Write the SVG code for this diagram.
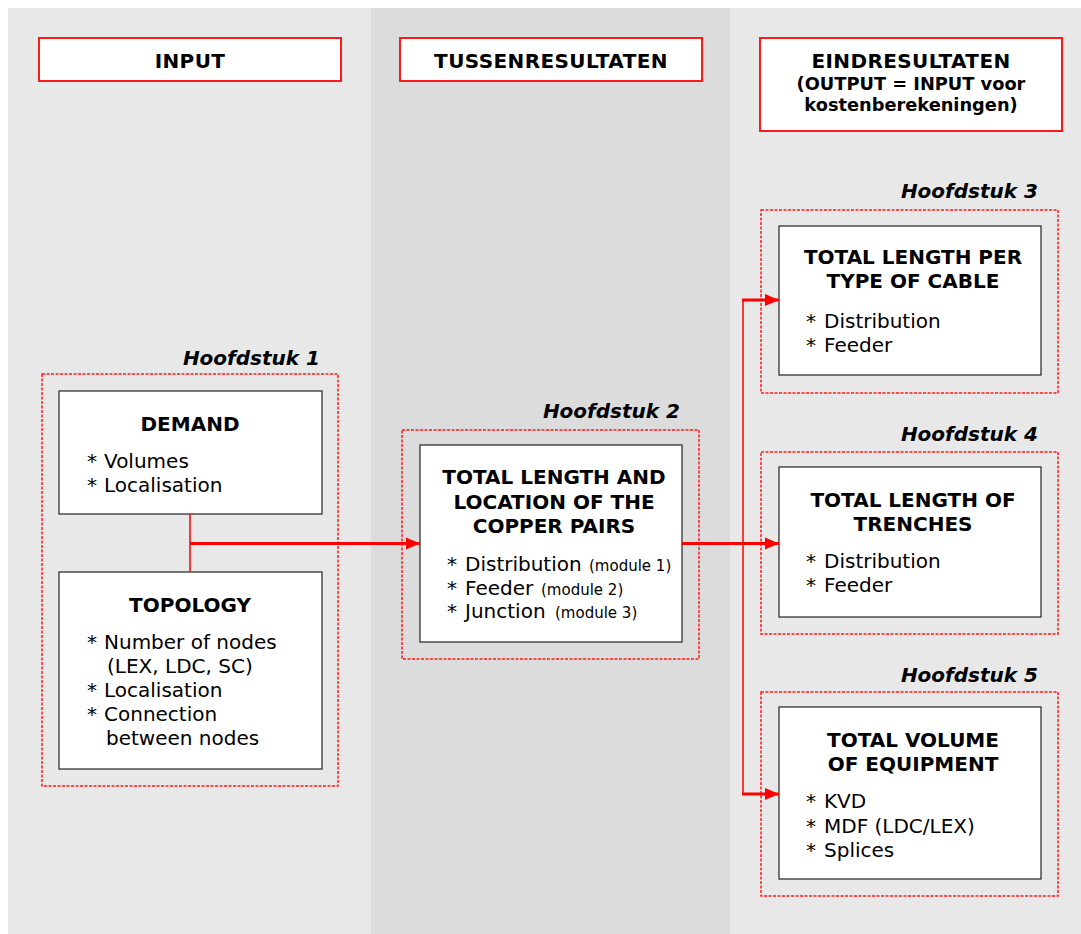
<svg xmlns="http://www.w3.org/2000/svg" width="1081" height="934" viewBox="0 0 1081 934">
  <defs>
    <style>
      .band-light { fill: #e8e8e8; }
      .band-dark { fill: #dcdcdc; }
      .header { fill: #ffffff; stroke: #ff1a1a; stroke-width: 2; }
      .chapter { fill: none; stroke: #ff1a1a; stroke-width: 1.5; stroke-dasharray: 3 1.5; }
      .box { fill: #ffffff; stroke: #222222; stroke-width: 1.2; }
      .title { font-family: "DejaVu Sans", Verdana, sans-serif; font-weight: bold; font-size: 20px; fill: #000; text-anchor: middle; }
      .head { letter-spacing: 0.4px; }
      .sub { font-family: "DejaVu Sans", Verdana, sans-serif; font-weight: bold; font-size: 17.8px; fill: #000; text-anchor: middle; }
      .label { font-family: "DejaVu Sans", Verdana, sans-serif; font-weight: bold; font-style: italic; font-size: 20px; fill: #000; text-anchor: end; }
      .item { font-family: "DejaVu Sans", Verdana, sans-serif; font-size: 20px; fill: #000; }
      .small { font-size: 15px; }
      .link { fill: none; stroke: #ff0000; stroke-width: 1.5; }
      .flow { fill: none; stroke: #ff0000; stroke-width: 3; }
    </style>
    <marker id="arrow" markerUnits="userSpaceOnUse" markerWidth="16" markerHeight="14" refX="15" refY="7" orient="auto">
      <path d="M1,1 L15,7 L1,13 Z" fill="#ff0000"/>
    </marker>
  </defs>

  <!-- column bands -->
  <rect x="0" y="0" width="1081" height="934" fill="#ffffff"/>
  <rect class="band-light" x="8" y="8" width="363" height="926"/>
  <rect class="band-dark" x="371" y="8" width="359" height="926"/>
  <rect class="band-light" x="730" y="8" width="351" height="926"/>

  <!-- column headers -->
  <g id="header-input">
    <rect class="header" x="39" y="38" width="302" height="43"/>
    <text class="title head" x="190" y="68">INPUT</text>
  </g>
  <g id="header-tussenresultaten">
    <rect class="header" x="400" y="38" width="302" height="43"/>
    <text class="title head" x="551" y="68">TUSSENRESULTATEN</text>
  </g>
  <g id="header-eindresultaten">
    <rect class="header" x="760" y="38" width="302" height="93"/>
    <text class="title head" x="911" y="68">EINDRESULTATEN</text>
    <text class="sub" x="911" y="90">(OUTPUT = INPUT voor</text>
    <text class="sub" x="911" y="111">kostenberekeningen)</text>
  </g>

  <!-- chapter 1: demand and topology -->
  <g id="hoofdstuk-1">
    <text class="label" x="320" y="365">Hoofdstuk 1</text>
    <rect class="chapter" x="42" y="374" width="296" height="412"/>
  </g>
  <g id="demand">
    <rect class="box" x="59" y="391" width="263" height="123"/>
    <text class="title" x="190" y="431">DEMAND</text>
    <text class="item"><tspan x="87" y="468">*</tspan><tspan x="104" y="468">Volumes</tspan></text>
    <text class="item"><tspan x="87" y="492">*</tspan><tspan x="104" y="492">Localisation</tspan></text>
  </g>
  <g id="topology">
    <rect class="box" x="59" y="572" width="263" height="197"/>
    <text class="title" x="190" y="612">TOPOLOGY</text>
    <text class="item"><tspan x="87" y="649">*</tspan><tspan x="104" y="649">Number of nodes</tspan></text>
    <text class="item" x="107" y="673">(LEX, LDC, SC)</text>
    <text class="item"><tspan x="87" y="697">*</tspan><tspan x="104" y="697">Localisation</tspan></text>
    <text class="item"><tspan x="87" y="721">*</tspan><tspan x="104" y="721">Connection</tspan></text>
    <text class="item" x="106" y="745">between nodes</text>
  </g>

  <!-- chapter 2: copper pairs -->
  <g id="hoofdstuk-2">
    <text class="label" x="680" y="418">Hoofdstuk 2</text>
    <rect class="chapter" x="402" y="430" width="297" height="229"/>
  </g>
  <g id="copper-pairs">
    <rect class="box" x="420" y="445" width="262" height="197"/>
    <text class="title" x="554" y="484">TOTAL LENGTH AND</text>
    <text class="title" x="554" y="509">LOCATION OF THE</text>
    <text class="title" x="554" y="533">COPPER PAIRS</text>
    <text class="item"><tspan x="447" y="571">*</tspan><tspan x="465" y="571">Distribution</tspan><tspan class="small" x="589" y="571">(module 1)</tspan></text>
    <text class="item"><tspan x="447" y="595">*</tspan><tspan x="465" y="595">Feeder</tspan><tspan class="small" x="541" y="595">(module 2)</tspan></text>
    <text class="item"><tspan x="447" y="618">*</tspan><tspan x="465" y="618">Junction</tspan><tspan class="small" x="555" y="618">(module 3)</tspan></text>
  </g>

  <!-- chapter 3: cable length -->
  <g id="hoofdstuk-3">
    <text class="label" x="1038" y="198">Hoofdstuk 3</text>
    <rect class="chapter" x="761" y="210" width="297" height="183"/>
  </g>
  <g id="cable-length">
    <rect class="box" x="779" y="226" width="262" height="149"/>
    <text class="title" x="913" y="264">TOTAL LENGTH PER</text>
    <text class="title" x="913" y="288">TYPE OF CABLE</text>
    <text class="item"><tspan x="806" y="328">*</tspan><tspan x="824" y="328">Distribution</tspan></text>
    <text class="item"><tspan x="806" y="352">*</tspan><tspan x="824" y="352">Feeder</tspan></text>
  </g>

  <!-- chapter 4: trenches -->
  <g id="hoofdstuk-4">
    <text class="label" x="1038" y="441">Hoofdstuk 4</text>
    <rect class="chapter" x="761" y="452" width="297" height="182"/>
  </g>
  <g id="trenches">
    <rect class="box" x="779" y="467" width="262" height="150"/>
    <text class="title" x="913" y="507">TOTAL LENGTH OF</text>
    <text class="title" x="913" y="531">TRENCHES</text>
    <text class="item"><tspan x="806" y="568">*</tspan><tspan x="824" y="568">Distribution</tspan></text>
    <text class="item"><tspan x="806" y="592">*</tspan><tspan x="824" y="592">Feeder</tspan></text>
  </g>

  <!-- chapter 5: equipment -->
  <g id="hoofdstuk-5">
    <text class="label" x="1038" y="682">Hoofdstuk 5</text>
    <rect class="chapter" x="761" y="692" width="297" height="204"/>
  </g>
  <g id="equipment">
    <rect class="box" x="779" y="707" width="262" height="172"/>
    <text class="title" x="913" y="747">TOTAL VOLUME</text>
    <text class="title" x="913" y="771">OF EQUIPMENT</text>
    <text class="item"><tspan x="806" y="808">*</tspan><tspan x="824" y="808">KVD</tspan></text>
    <text class="item"><tspan x="806" y="833">*</tspan><tspan x="824" y="833">MDF (LDC/LEX)</tspan></text>
    <text class="item"><tspan x="806" y="857">*</tspan><tspan x="824" y="857">Splices</tspan></text>
  </g>

  <!-- connectors -->
  <g id="connectors">
    <line class="link" x1="190" y1="514" x2="190" y2="572"/>
    <line class="flow" x1="190" y1="543.5" x2="420" y2="543.5" marker-end="url(#arrow)"/>
    <line class="flow" x1="682" y1="543.5" x2="779" y2="543.5" marker-end="url(#arrow)"/>
    <line class="link" x1="743" y1="300" x2="743" y2="794"/>
    <line class="flow" x1="742" y1="300" x2="779" y2="300" marker-end="url(#arrow)"/>
    <line class="flow" x1="742" y1="794" x2="779" y2="794" marker-end="url(#arrow)"/>
  </g>
</svg>
